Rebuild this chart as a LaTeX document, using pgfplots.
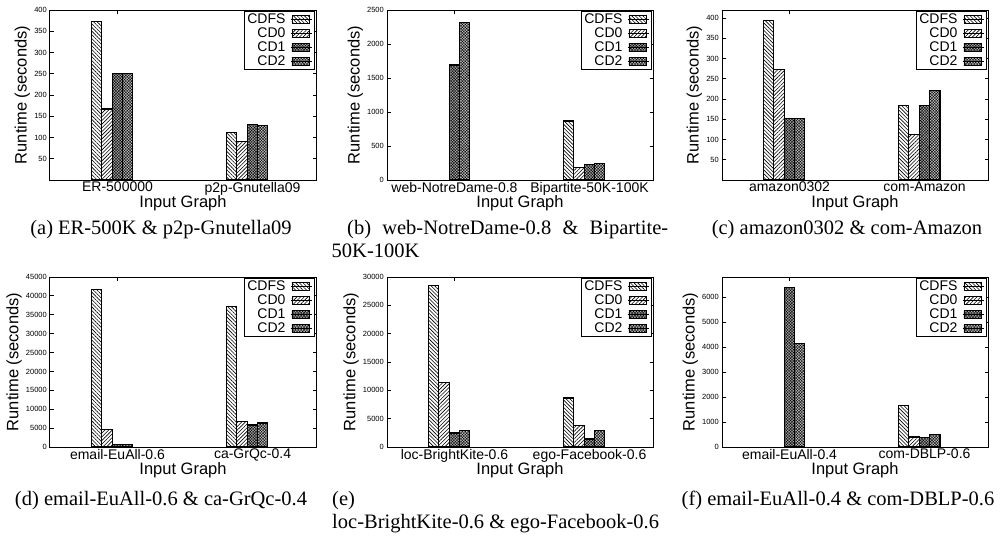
\documentclass[border=0pt]{standalone}
\usepackage{fontspec}
\setmainfont{Liberation Serif}
\newfontfamily\chartfont{Liberation Sans}
\usepackage{pgfplots}
\pgfplotsset{compat=1.18}
\usetikzlibrary{patterns,patterns.meta}

\pgfplotsset{
  mypanel/.style={
    scale only axis, width=266pt, height=170pt,
    xmin=-0.5, xmax=1.47, ymin=0,
    xtick={0,1},
    ybar=0pt, bar width=10.4pt,
    tick align=inside, major tick length=3.5pt,
    axis line style={line width=1pt},
    tick style={black, line width=0.8pt},
    font=\chartfont,
    x tick label style={font=\chartfont\fontsize{14}{14}\selectfont, inner sep=1pt, yshift=-1pt},
    y tick label style={font=\chartfont\fontsize{7.5}{8}\selectfont, inner sep=3pt},
    /pgf/number format/.cd, fixed, 1000 sep={}, assume math mode=true, /pgfplots/.cd,
    scaled y ticks=false,
    xlabel={Input Graph}, ylabel={Runtime (seconds)},
    every axis x label/.style={at={(axis description cs:0.5,0)}, anchor=center, yshift=-23pt, font=\chartfont\fontsize{16.5}{17}\selectfont},
    every axis y label/.style={at={(ticklabel cs:0.5)}, rotate=90, anchor=south, inner sep=1pt, font=\chartfont\fontsize{16.5}{17}\selectfont},
    legend style={at={(1,1)}, anchor=north east, draw=black, line width=1pt,
      font=\chartfont\fontsize{14}{14}\selectfont, inner xsep=2pt, inner ysep=1.5pt,
      nodes={inner ysep=0pt, inner xsep=1pt, text height=10pt, text depth=3pt},
      row sep=1pt, xshift=-1pt, yshift=-1pt,
      /tikz/every odd column/.append style={column sep=4pt}},
    legend cell align=right,
    legend plot pos=right,
    legend image code/.code={\draw[##1, line width=0.9pt] (0pt,-4pt) rectangle (17pt,4pt); \path (-1pt,0pt) -- (20pt,0pt);},
  },
  cdfs/.style={draw=black, line width=1.1pt, pattern={Lines[angle=-45, distance=2.6pt, line width=0.6pt]}},
  cdz/.style={draw=black, line width=1.1pt, pattern={Lines[angle=45, distance=2.6pt, line width=0.6pt]}},
  cdone/.style={draw=black, line width=1.1pt, fill=black!32, postaction={pattern={Hatch[angle=45, distance=2pt, line width=0.4pt]}}},
  cdtwo/.style={draw=black, line width=1.1pt, fill=black!22, postaction={pattern={Hatch[angle=45, distance=2pt, line width=0.4pt]}}},
}

\begin{document}
\begin{tikzpicture}
\useasboundingbox (0,0) rectangle (1003pt,-535pt);

% (a)
\begin{axis}[mypanel, at={(50pt,-180pt)}, anchor=south west, ymax=400,
  ytick={50,100,150,200,250,300,350,400}, xticklabels={ER-500000, p2p-Gnutella09}]
\addplot[cdfs] coordinates {(-0.04,373) (0.96,112)};
\addplot[cdz] coordinates {(-0.04,167) (0.96,91)};
\addplot[cdone] coordinates {(-0.04,251) (0.96,131)};
\addplot[cdtwo] coordinates {(-0.04,251) (0.96,129)};
\legend{CDFS,CD0,CD1,CD2}
\end{axis}

% (b)
\begin{axis}[mypanel, at={(387pt,-180pt)}, anchor=south west, ymax=2500,
  ytick={0,500,1000,1500,2000,2500}, xticklabels={web-NotreDame-0.8, Bipartite-50K-100K}]
\addplot[cdfs] coordinates {(0.96,868)};
\addplot[cdz] coordinates {(0.96,186)};
\addplot[cdone] coordinates {(-0.04,1691) (0.96,230)};
\addplot[cdtwo] coordinates {(-0.04,2319) (0.96,245)};
\legend{CDFS,CD0,CD1,CD2}
\end{axis}

% (c)
\begin{axis}[mypanel, at={(722pt,-180pt)}, anchor=south west, ymax=420,
  ytick={50,100,150,200,250,300,350,400}, xticklabels={amazon0302, com-Amazon}]
\addplot[cdfs] coordinates {(-0.04,395) (0.96,185)};
\addplot[cdz] coordinates {(-0.04,272) (0.96,113)};
\addplot[cdone] coordinates {(-0.04,151) (0.96,185)};
\addplot[cdtwo] coordinates {(-0.04,153) (0.96,222)};
\legend{CDFS,CD0,CD1,CD2}
\end{axis}

% (d)
\begin{axis}[mypanel, at={(50pt,-447pt)}, anchor=south west, ymax=45000,
  ytick={0,5000,10000,15000,20000,25000,30000,35000,40000,45000}, xticklabels={email-EuAll-0.6, ca-GrQc-0.4}]
\addplot[cdfs] coordinates {(-0.04,41800) (0.96,37240)};
\addplot[cdz] coordinates {(-0.04,4590) (0.96,6790)};
\addplot[cdone] coordinates {(-0.04,650) (0.96,5820)};
\addplot[cdtwo] coordinates {(-0.04,560) (0.96,6350)};
\legend{CDFS,CD0,CD1,CD2}
\end{axis}

% (e)
\begin{axis}[mypanel, at={(387pt,-447pt)}, anchor=south west, ymax=30000,
  ytick={0,5000,10000,15000,20000,25000,30000}, xticklabels={loc-BrightKite-0.6, ego-Facebook-0.6}]
\addplot[cdfs] coordinates {(-0.04,28550) (0.96,8650)};
\addplot[cdz] coordinates {(-0.04,11350) (0.96,3820)};
\addplot[cdone] coordinates {(-0.04,2470) (0.96,1410)};
\addplot[cdtwo] coordinates {(-0.04,2940) (0.96,2940)};
\legend{CDFS,CD0,CD1,CD2}
\end{axis}

% (f)
\begin{axis}[mypanel, at={(722pt,-447pt)}, anchor=south west, ymax=6800,
  ytick={0,1000,2000,3000,4000,5000,6000}, xticklabels={email-EuAll-0.4, com-DBLP-0.6}]
\addplot[cdfs] coordinates {(0.96,1665)};
\addplot[cdz] coordinates {(0.96,400)};
\addplot[cdone] coordinates {(-0.04,6370) (0.96,372)};
\addplot[cdtwo] coordinates {(-0.04,4144) (0.96,492)};
\legend{CDFS,CD0,CD1,CD2}
\end{axis}

% captions
\begin{scope}[every node/.style={font=\fontsize{20.5}{24}\selectfont, inner sep=0pt}]
\node[anchor=base] at (161pt,-234pt) {(a) ER-500K \& p2p-Gnutella09};
\node[anchor=base west] at (347pt,-234pt) {\makebox[321pt][s]{(b) web-NotreDame-0.8 \& Bipartite-}};
\node[anchor=base west] at (331.5pt,-257.5pt) {50K-100K};
\node[anchor=base] at (847pt,-234pt) {(c) amazon0302 \& com-Amazon};
\node[anchor=base] at (161pt,-505pt) {(d) email-EuAll-0.6 \& ca-GrQc-0.4};
\node[anchor=base west] at (332pt,-505pt) {(e)};
\node[anchor=base west] at (332pt,-528pt) {loc-BrightKite-0.6 \& ego-Facebook-0.6};
\node[anchor=base] at (838pt,-505pt) {(f) email-EuAll-0.4 \& com-DBLP-0.6};
\end{scope}
\end{tikzpicture}
\end{document}
